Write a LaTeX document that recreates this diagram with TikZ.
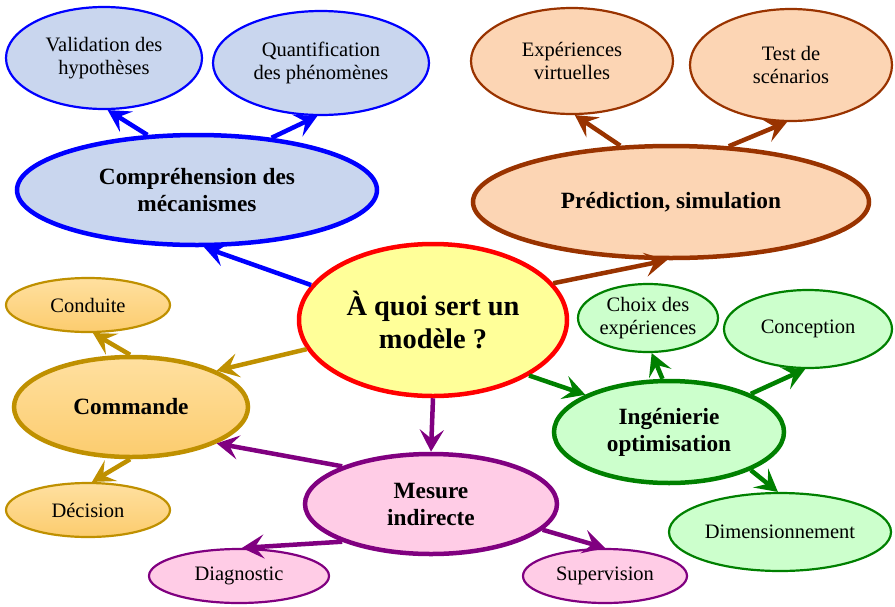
\documentclass[tikz,border=0pt]{standalone}
\usepackage{fontspec}
\setmainfont{Liberation Serif}
\usetikzlibrary{shapes.geometric,arrows.meta}
\definecolor{bfill}{RGB}{201,214,238}
\definecolor{bline}{RGB}{0,0,255}
\definecolor{rfill}{RGB}{252,213,180}
\definecolor{rline}{RGB}{153,51,0}
\definecolor{gfilltop}{RGB}{255,224,160}
\definecolor{gfillbot}{RGB}{252,204,110}
\definecolor{gline}{RGB}{191,144,0}
\definecolor{pfill}{RGB}{255,204,230}
\definecolor{pline}{RGB}{128,0,128}
\definecolor{vfill}{RGB}{204,255,204}
\definecolor{vline}{RGB}{0,128,0}
\definecolor{yfill}{RGB}{255,255,153}
\definecolor{cline}{RGB}{255,0,0}
\tikzset{
  bubble/.style={ellipse, inner sep=0pt, align=center},
  mainb/.style={bubble, line width=4.5pt, font=\fontsize{23.3}{27}\selectfont\bfseries},
  childb/.style={bubble, line width=2.2pt, font=\fontsize{20.5}{23}\selectfont},
  arr/.style={line width=4.5pt, -{Stealth[length=22pt,width=24pt,inset=9pt]}},
}
\begin{document}
\begin{tikzpicture}[x=1pt,y=-1pt]
\useasboundingbox (0,0) rectangle (895,606);
% centre
\node[bubble, line width=4.5pt, draw=cline, fill=yfill, minimum width=268pt, minimum height=152pt,
      font=\fontsize{28.4}{33}\selectfont\bfseries] (c) at (433,320) {À quoi sert un\\modèle ?};
% blue
\node[mainb, draw=bline, fill=bfill, minimum width=360pt, minimum height=110pt] (comp) at (197,190) {Compréhension des\\mécanismes};
\node[childb, draw=bline, fill=bfill, minimum width=196pt, minimum height=102pt] (valid) at (104,58) {Validation des\\hypothèses};
\node[childb, draw=bline, fill=bfill, minimum width=216pt, minimum height=104pt] (quant) at (321,63) {Quantification\\des phénomènes};
% brown
\node[mainb, draw=rline, fill=rfill, minimum width=396pt, minimum height=112pt] (pred) at (671,202) {Prédiction, simulation};
\node[childb, draw=rline, fill=rfill, minimum width=202pt, minimum height=106pt] (expv) at (572,61) {Expériences\\virtuelles};
\node[childb, draw=rline, fill=rfill, minimum width=202pt, minimum height=112pt] (test) at (791,65) {Test de\\scénarios};
% gold
\node[mainb, draw=gline, top color=gfilltop, bottom color=gfillbot, minimum width=234pt, minimum height=100pt] (cmd) at (131,407) {Commande};
\node[childb, draw=gline, top color=gfilltop, bottom color=gfillbot, minimum width=164pt, minimum height=54pt] (cond) at (88,305) {Conduite};
\node[childb, draw=gline, top color=gfilltop, bottom color=gfillbot, minimum width=164pt, minimum height=54pt] (deci) at (88,510) {Décision};
% purple
\node[mainb, draw=pline, fill=pfill, minimum width=252pt, minimum height=100pt] (mes) at (431,504) {Mesure\\indirecte};
\node[childb, draw=pline, fill=pfill, minimum width=180pt, minimum height=54pt] (diag) at (239,576) {Diagnostic};
\node[childb, draw=pline, fill=pfill, minimum width=164pt, minimum height=54pt] (sup) at (605,576) {Supervision};
% green
\node[mainb, draw=vline, fill=vfill, minimum width=230pt, minimum height=102pt] (ing) at (669,432) {Ingénierie\\optimisation};
\node[childb, draw=vline, fill=vfill, minimum width=140pt, minimum height=68pt] (choix) at (648,318) {Choix des\\expériences};
\node[childb, draw=vline, fill=vfill, minimum width=168pt, minimum height=78pt] (conc) at (808,329) {Conception};
\node[childb, draw=vline, fill=vfill, minimum width=222pt, minimum height=78pt] (dim) at (780,532) {Dimensionnement};
% arrows
\draw[arr, draw=bline] (c.164) -- (comp.277);
\draw[arr, draw=bline] (comp.132) -- (valid.274);
\draw[arr, draw=bline] (comp.35) -- (quant.266);
\draw[arr, draw=rline] (c.17.5) -- (pred.266);
\draw[arr, draw=rline] (pred.132) -- (expv.273);
\draw[arr, draw=rline] (pred.44) -- (test.266);
\draw[arr, draw=gline] (c.193) -- (cmd.23);
\draw[arr, draw=gline] (cmd.91) -- (cond.280);
\draw[arr, draw=gline] (cmd.269) -- (deci.82);
\draw[arr, draw=pline] (c.270) -- (mes.90);
\draw[arr, draw=pline] (mes.157) -- (cmd.337);
\draw[arr, draw=pline] (mes.203) -- (diag.84);
\draw[arr, draw=pline] (mes.347) -- (sup.90);
\draw[arr, draw=vline] (c.330) -- (ing.156);
\draw[arr, draw=vline] (ing.97) -- (choix.276);
\draw[arr, draw=vline] (ing.25) -- (conc.266);
\draw[arr, draw=vline] (ing.335) -- (dim.93);
\end{tikzpicture}
\end{document}
